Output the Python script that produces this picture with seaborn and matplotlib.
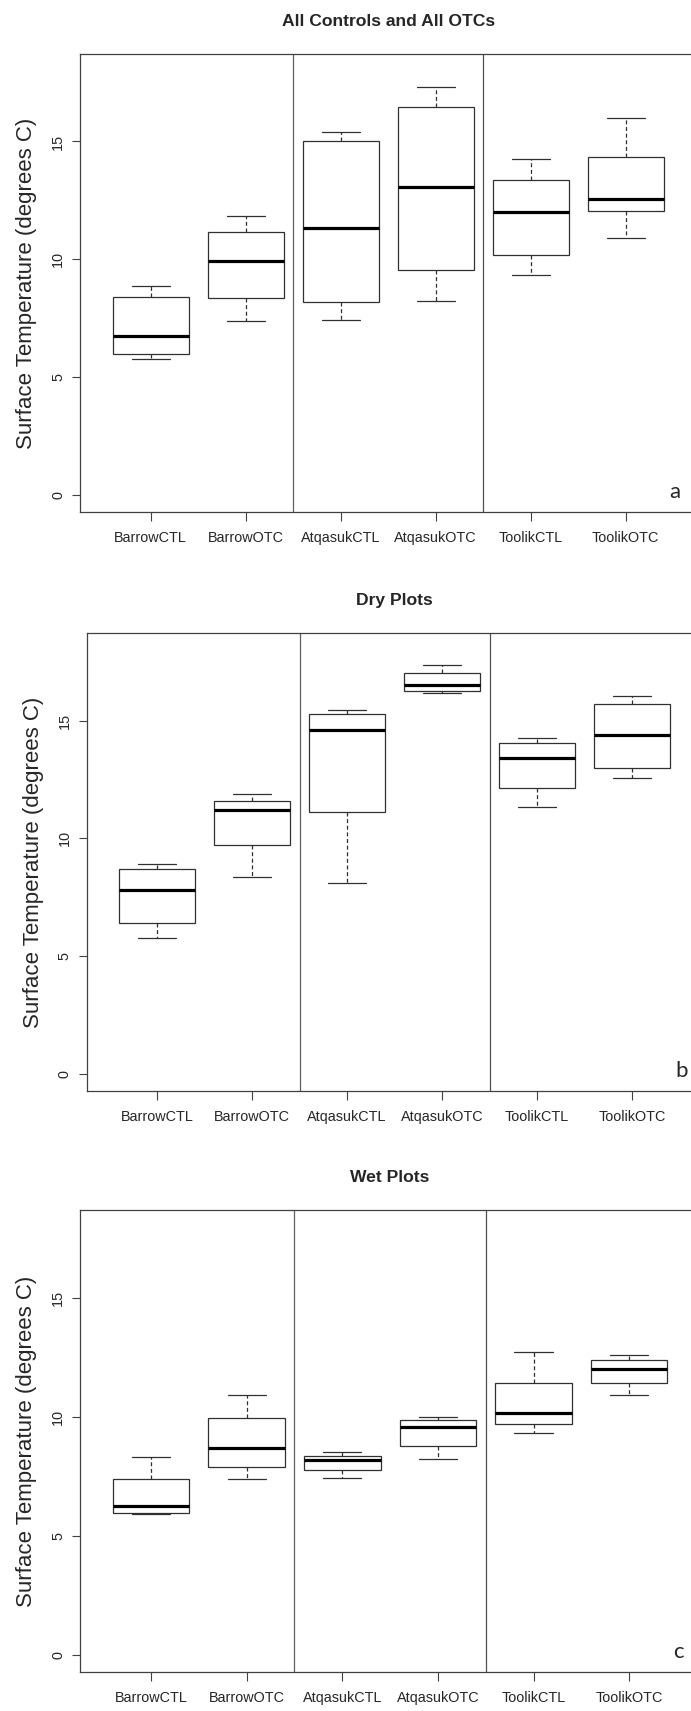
import pandas as pd
import matplotlib.pyplot as plt
import seaborn as sns

# Site / treatment groups on the x axis
sites = ['BarrowCTL', 'BarrowOTC', 'AtqasukCTL', 'AtqasukOTC', 'ToolikCTL', 'ToolikOTC']

# five-number summaries: [min, q1, median, q3, max]
all_plots = [
    [5.77, 5.99, 6.76, 8.42, 8.89],
    [7.39, 8.38, 9.95, 11.18, 11.83],
    [7.43, 8.18, 11.32, 15.01, 15.41],
    [8.25, 9.55, 13.06, 16.44, 17.31],
    [9.33, 10.17, 12.00, 13.36, 14.24],
    [10.92, 12.04, 12.55, 14.36, 16.00],
]
dry_plots = [
    [5.78, 6.42, 7.81, 8.70, 8.92],
    [8.36, 9.70, 11.20, 11.60, 11.87],
    [8.12, 11.13, 14.59, 15.27, 15.47],
    [16.17, 16.25, 16.50, 17.01, 17.35],
    [11.35, 12.15, 13.40, 14.07, 14.27],
    [12.55, 13.01, 14.39, 15.70, 16.05],
]
wet_plots = [
    [5.94, 5.99, 6.26, 7.40, 8.31],
    [7.40, 7.91, 8.71, 9.96, 10.95],
    [7.43, 7.80, 8.20, 8.38, 8.54],
    [8.26, 8.81, 9.57, 9.89, 10.01],
    [9.34, 9.72, 10.19, 11.45, 12.73],
    [10.95, 11.42, 12.05, 12.41, 12.61],
]

titles = ['All Controls and All OTCs', 'Dry Plots', 'Wet Plots']
panel_letters = ['a', 'b', 'c']
y_ticks = [0, 5, 10, 15]
y_label = 'Surface Temperature (degrees C)'

sns.set_style('ticks')
plt.rcParams['font.family'] = ['Liberation Sans', 'DejaVu Sans']

fig = plt.figure(figsize=(6.91, 17.11), dpi=100)
axes_pos = [
    [0.1162, 0.7007, 0.8910, 0.2679],
    [0.1255, 0.3625, 0.8909, 0.2675],
    [0.1162, 0.0228, 0.8967, 0.2700],
]

frame_col = '#404040'

for pos, stats, title, letter in zip(axes_pos, [all_plots, dry_plots, wet_plots], titles, panel_letters):
    ax = fig.add_axes(pos)

    # long table: 5 values per group give exactly these quartiles
    rows = []
    for site, vals in zip(sites, stats):
        for v in vals:
            rows.append({'site': site, 'temp': v})
    df = pd.DataFrame(rows)

    sns.boxplot(data=df, x='site', y='temp', order=sites, ax=ax,
                color='white', linecolor='#303030', linewidth=0.9,
                width=0.8, whis=(0, 100), fliersize=0,
                medianprops=dict(color='black', linewidth=2.3),
                whiskerprops=dict(linestyle=(0, (3.2, 2.1))))

    # separators between sites
    ax.axvline(1.5, color='#606060', linewidth=0.9)
    ax.axvline(3.5, color='#505050', linewidth=0.9)

    ax.set_xlim(-0.74, 5.74)
    ax.set_ylim(-0.72, 18.72)
    ax.set_yticks(y_ticks)
    ax.set_yticklabels([str(t) for t in y_ticks])
    for lab in ax.get_yticklabels():
        lab.set_rotation(90)
        lab.set_va('center')
    ax.set_xlabel('')
    ax.set_ylabel(y_label, fontsize=16, va='center')
    ax.yaxis.set_label_coords(-0.087, 0.5)

    ax.tick_params(axis='y', length=6, width=0.8, color=frame_col, pad=5, labelsize=10.4)
    ax.tick_params(axis='x', length=6.5, width=0.8, color=frame_col, pad=7, labelsize=10.4)
    for sp in ax.spines.values():
        sp.set_visible(True)
        sp.set_color(frame_col)
        sp.set_linewidth(0.9)

    ax.set_title(title, fontsize=12.6, fontweight='bold', pad=20)
    ax.text(5.52, -0.12, letter, ha='center', va='baseline', fontsize=16,
            family=['Lato', 'DejaVu Sans'])

fig.savefig('out.png', dpi=100)
